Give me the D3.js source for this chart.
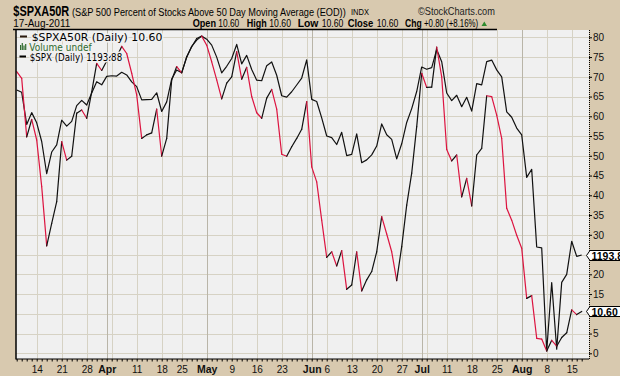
<!DOCTYPE html>
<html><head><meta charset="utf-8">
<script src="https://cdn.jsdelivr.net/npm/d3@7"></script>
<style>
body{margin:0;background:#D8C9AF;overflow:hidden}
svg{display:block}
</style>
</head><body>
<svg id="c" width="620" height="376"></svg>
<script>
// ---------------- data ----------------
const dates = [
"2011-03-08","2011-03-09","2011-03-10","2011-03-11","2011-03-14","2011-03-15","2011-03-16","2011-03-17","2011-03-18",
"2011-03-21","2011-03-22","2011-03-23","2011-03-24","2011-03-25","2011-03-28","2011-03-29","2011-03-30","2011-03-31",
"2011-04-01","2011-04-04","2011-04-05","2011-04-06","2011-04-07","2011-04-08","2011-04-11","2011-04-12","2011-04-13",
"2011-04-14","2011-04-15","2011-04-18","2011-04-19","2011-04-20","2011-04-21","2011-04-25","2011-04-26","2011-04-27",
"2011-04-28","2011-04-29","2011-05-02","2011-05-03","2011-05-04","2011-05-05","2011-05-06","2011-05-09","2011-05-10",
"2011-05-11","2011-05-12","2011-05-13","2011-05-16","2011-05-17","2011-05-18","2011-05-19","2011-05-20","2011-05-23",
"2011-05-24","2011-05-25","2011-05-26","2011-05-27","2011-05-31","2011-06-01","2011-06-02","2011-06-03","2011-06-06",
"2011-06-07","2011-06-08","2011-06-09","2011-06-10","2011-06-13","2011-06-14","2011-06-15","2011-06-16","2011-06-17",
"2011-06-20","2011-06-21","2011-06-22","2011-06-23","2011-06-24","2011-06-27","2011-06-28","2011-06-29","2011-06-30",
"2011-07-01","2011-07-05","2011-07-06","2011-07-07","2011-07-08","2011-07-11","2011-07-12","2011-07-13","2011-07-14",
"2011-07-15","2011-07-18","2011-07-19","2011-07-20","2011-07-21","2011-07-22","2011-07-25","2011-07-26","2011-07-27",
"2011-07-28","2011-07-29","2011-08-01","2011-08-02","2011-08-03","2011-08-04","2011-08-05","2011-08-08","2011-08-09",
"2011-08-10","2011-08-11","2011-08-12","2011-08-15","2011-08-16","2011-08-17"];

// $SPXA50R (percent of S&P 500 stocks above 50-day MA)
const spxa50r = [
71.3,69.6,54.8,59.2,54.0,42.2,27.2,32.9,38.4,
53.6,48.9,49.9,60.8,61.6,59.5,66.2,73.4,71.6,
74.0,75.5,75.0,77.7,75.9,70.9,65.4,54.4,55.3,
55.8,61.8,49.9,54.4,69.2,72.6,71.0,75.1,77.6,
79.7,80.3,78.0,73.8,69.2,64.4,68.4,70.0,76.4,
69.4,72.4,65.0,60.9,59.5,64.6,66.8,61.8,50.4,
49.9,52.3,54.4,56.7,63.7,47.2,43.4,33.7,24.3,
25.7,22.1,26.0,16.2,17.3,25.7,15.8,18.6,20.7,
25.7,34.6,30.2,25.7,18.4,27.0,37.5,45.6,57.4,
70.9,67.3,67.4,77.5,70.0,51.6,48.7,50.2,39.6,
44.3,37.3,50.2,51.9,65.2,65.0,60.3,54.4,36.7,
33.7,29.9,26.6,13.9,14.6,3.8,3.6,0.6,3.3,
1.8,4.0,5.2,11.0,9.8,10.6];

// $SPX daily close (overlay)
const spx = [
1321.82,1320.02,1295.11,1304.28,1296.39,1281.87,1256.88,1273.72,1279.21,
1298.38,1293.77,1297.54,1309.66,1313.80,1310.19,1319.44,1328.26,1325.83,
1332.41,1332.87,1332.63,1335.54,1333.51,1328.17,1324.46,1314.16,1314.41,
1314.52,1319.68,1305.14,1312.62,1330.36,1337.38,1335.25,1347.24,1355.66,
1360.48,1363.61,1361.22,1356.62,1347.32,1335.10,1340.20,1346.29,1357.16,
1342.08,1348.65,1337.77,1329.47,1328.98,1340.68,1343.60,1333.27,1317.37,
1316.28,1320.47,1325.69,1331.10,1345.20,1314.55,1312.94,1300.16,1286.17,
1284.94,1279.56,1289.00,1270.98,1271.83,1287.87,1265.42,1267.64,1271.50,
1278.36,1295.52,1287.14,1283.50,1268.45,1280.10,1296.67,1307.41,1320.64,
1339.67,1337.88,1339.22,1353.22,1343.80,1319.49,1313.64,1317.72,1308.87,
1316.14,1305.44,1326.73,1325.84,1343.80,1345.02,1337.43,1331.94,1304.89,
1300.67,1292.28,1286.94,1254.05,1260.34,1200.07,1199.38,1119.46,1172.53,
1120.76,1172.64,1178.81,1204.49,1192.76,1193.89];

const yTicks = [0,5,10,15,20,25,30,35,40,45,50,55,60,65,70,75,80];
const monthNames = ["Jan","Feb","Mar","Apr","May","Jun","Jul","Aug","Sep","Oct","Nov","Dec"];
const headerQuote = [["Open",true],["10.60",false],["High",true],["10.60",false],["Low",true],["10.60",false],["Close",true],["10.60",false],["Chg",true],["+0.80 (+8.16%)",false]];
const lastA50 = "10.60", lastSPX = "1193.88";

// ---------------- layout ----------------
const svg = d3.select("#c");
const P = {l:16, r:589, t:30, b:359};
const n = dates.length;
const x = d3.scaleLinear().domain([0, n-1]).range([16.7, 16.7 + 5*(n-1)]);
const y = d3.scaleLinear().domain([0, 80]).range([353.3, 37.3]);
const y2 = d3.scaleLinear().domain(d3.extent(spx))
  .range([y(d3.min(spxa50r)), y(d3.max(spxa50r))]);
const parsed = dates.map(s => new Date(s + "T12:00:00"));

const RED = "#DC1440";
const GRID = "#D6D2C4", GRIDM = "#B9B5A8";

svg.append("rect").attr("x",P.l).attr("y",P.t).attr("width",P.r-P.l).attr("height",P.b-P.t).attr("fill","#F0F0F0");
svg.append("defs").append("clipPath").attr("id","clip")
  .append("rect").attr("x",P.l).attr("y",P.t).attr("width",P.r-P.l).attr("height",P.b-P.t);

const weekStarts = [], monthStarts = [];
for (let i=1;i<n;i++){
  if (parsed[i].getMonth() !== parsed[i-1].getMonth()) monthStarts.push(i);
  if (parsed[i].getDay() < parsed[i-1].getDay() || (parsed[i]-parsed[i-1]) > 4*864e5) weekStarts.push(i);
}

const g = svg.append("g").attr("clip-path","url(#clip)");
g.selectAll(".hg").data(yTicks).join("line")
  .attr("x1",P.l).attr("x2",P.r).attr("y1",d=>Math.round(y(d))+0.5).attr("y2",d=>Math.round(y(d))+0.5)
  .attr("stroke",GRID).attr("stroke-width",1);
g.selectAll(".vg").data(weekStarts.filter(i=>!monthStarts.includes(i))).join("line")
  .attr("x1",d=>Math.round(x(d))+0.5).attr("x2",d=>Math.round(x(d))+0.5).attr("y1",P.t).attr("y2",P.b)
  .attr("stroke",GRID).attr("stroke-width",1);
g.selectAll(".vm").data(monthStarts).join("line")
  .attr("x1",d=>Math.round(x(d))+0.5).attr("x2",d=>Math.round(x(d))+0.5).attr("y1",P.t).attr("y2",P.b)
  .attr("stroke",GRIDM).attr("stroke-width",1);

g.append("path").datum(spx)
  .attr("d", d3.line().x((d,i)=>x(i)).y(d=>y2(d)))
  .attr("fill","none").attr("stroke","#111").attr("stroke-width",1.2).attr("stroke-linejoin","round");

g.selectAll(".seg").data(d3.range(1,n)).join("line")
  .attr("x1",i=>x(i-1)).attr("y1",i=>y(spxa50r[i-1]))
  .attr("x2",i=>x(i)).attr("y2",i=>y(spxa50r[i]))
  .attr("stroke",i=> spxa50r[i] < spxa50r[i-1] ? RED : "#111")
  .attr("stroke-width",1.2).attr("stroke-linecap","round");

svg.append("line").attr("x1",P.l).attr("x2",P.l).attr("y1",P.t).attr("y2",P.b+0.5).attr("stroke","#000").attr("stroke-width",1.5);
svg.append("line").attr("x1",P.l).attr("x2",P.r).attr("y1",P.b).attr("y2",P.b).attr("stroke","#000").attr("stroke-width",1.2);
svg.append("line").attr("x1",P.r+0.5).attr("x2",P.r+0.5).attr("y1",P.t).attr("y2",P.b)
  .attr("stroke","#000").attr("stroke-width",1).attr("stroke-dasharray","1,1");

const tagYs = [y2(spx[n-1]), y(spxa50r[n-1])];

const ya = svg.append("g").attr("transform",`translate(${P.r},0)`)
  .call(d3.axisRight(y).tickValues(yTicks).tickSize(3).tickPadding(1).tickFormat(d3.format("d")));
ya.select(".domain").remove();
ya.selectAll(".tick line").attr("stroke","#000");
ya.selectAll(".tick text").attr("font-family","Liberation Sans, Arial, sans-serif").attr("font-size","10px").attr("fill","#111")
  .style("display", d => tagYs.some(t => Math.abs(y(d)-t) < 8) ? "none" : null);

const xm = svg.append("g").attr("transform",`translate(0,${P.b})`)
  .call(d3.axisBottom(x).tickValues(d3.range(0,n)).tickSize(2.5).tickFormat(""));
xm.select(".domain").remove();
xm.selectAll(".tick line").attr("stroke","#000").attr("stroke-width",1);

const labelIdx = [];
monthStarts.forEach(i=>labelIdx.push(i));
weekStarts.forEach(i=>{ if (!monthStarts.some(m=>Math.abs(m-i)<=2)) labelIdx.push(i); });
labelIdx.sort((a,b)=>a-b);
const xl = svg.append("g").attr("transform",`translate(0,${P.b})`)
  .call(d3.axisBottom(x).tickValues(labelIdx).tickSize(0).tickPadding(7)
    .tickFormat(i => monthStarts.includes(i) ? monthNames[parsed[i].getMonth()] : String(parsed[i].getDate())));
xl.select(".domain").remove();
xl.selectAll(".tick text")
  .attr("font-family","Liberation Sans, Arial, sans-serif")
  .attr("font-size", i => monthStarts.includes(i) ? "10.5px" : "10px")
  .attr("font-weight", i => monthStarts.includes(i) ? "bold" : "normal")
  .attr("fill","#111");

function tag(val, label){
  const cy = Math.round(val)+0.5;
  svg.append("path")
    .attr("d",`M${P.r-2.5},${cy} L${P.r+1},${cy-5} L622,${cy-5} L622,${cy+5} L${P.r+1},${cy+5} Z`)
    .attr("fill","#fff").attr("stroke","#000").attr("stroke-width",1);
  svg.append("text").attr("x",P.r+2.5).attr("y",cy+4)
    .attr("font-family","Liberation Sans, Arial, sans-serif").attr("font-size","10.5px").attr("font-weight","bold")
    .attr("fill","#000").text(label);
}
tag(tagYs[0], lastSPX);
tag(tagYs[1], lastA50);

// ---------------- header (condensed via horizontal scale) ----------------
const hf = "Liberation Sans, Arial, sans-serif";
function htext(t, xx, yy, size, bold, len, color, family){
  const e = svg.append("text").attr("x",0).attr("y",0).attr("font-family",family||hf)
    .attr("font-size",size+"px").attr("font-weight",bold?"bold":"normal").attr("fill",color||"#000").text(t);
  const w = e.node().getComputedTextLength();
  const sx = len ? len / w : 1;
  e.attr("transform",`translate(${xx},${yy}) scale(${sx},1)`);
  return e;
}
htext("$SPXA50R", 13.3, 15.5, 14, true, 56);
htext("(S&P 500 Percent of Stocks Above 50 Day Moving Average (EOD))", 72, 15.5, 11.5, false, 274);
htext("INDX", 351, 15, 9.5, false, 18);
htext("©StockCharts.com", 418, 14.5, 11, false, 77, "#222");
htext("17-Aug-2011", 13.3, 27, 10, false, 57);
const qx = [192.7,218.3,246.7,269.3,297.7,321.7,347.7,376.7,405,424];
const qw = [23.3,21,20,21.7,20.7,21.7,25.7,21.7,16.7,54.3];
headerQuote.forEach((q,k)=> htext(q[0], qx[k], 27, q[1]?11.5:10.5, q[1], qw[k]));
svg.append("path").attr("d","M481.5,26 L484.3,21.5 L487,26 Z").attr("fill","#2E8B2E");
svg.append("line").attr("x1",13).attr("x2",497).attr("y1",29.5).attr("y2",29.5).attr("stroke","#000").attr("stroke-width",1.3);

// ---------------- legend ----------------
const lf = "DejaVu Sans, Verdana, sans-serif";
function ltext(t, xx, yy, len, color){
  const e = htext(t, xx, yy, 10, false, len, color, lf);
  e.attr("stroke","#F0F0F0").attr("stroke-width",3).attr("paint-order","stroke").attr("stroke-linejoin","round");
  return e;
}
svg.append("line").attr("x1",20).attr("x2",27).attr("y1",36.5).attr("y2",36.5).attr("stroke","#2a1a10").attr("stroke-width",2);
ltext("$SPXA50R (Daily) " + lastA50, 31.7, 40.5, 131, "#000");
[[20,5],[21.7,7],[23.4,4.5],[25.1,6]].forEach(b=>{
  svg.append("rect").attr("x",b[0]).attr("y",50-b[1]).attr("width",1.2).attr("height",b[1]).attr("fill","#2F6B2F");
});
ltext("Volume undef", 29.3, 50.5, 62.4, "#2F6B2F");
svg.append("line").attr("x1",19.5).attr("x2",26).attr("y1",56.5).attr("y2",56.5).attr("stroke","#000").attr("stroke-width",2);
ltext("$SPX (Daily) " + lastSPX, 29.7, 60.5, 92.6, "#000");
</script>
</body></html>
